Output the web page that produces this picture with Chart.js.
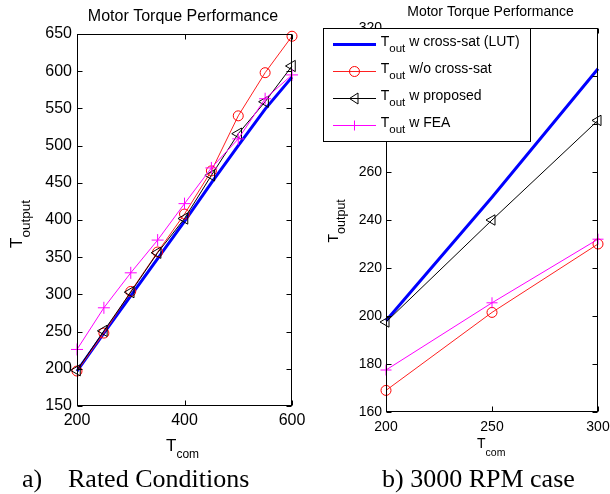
<!DOCTYPE html>
<html><head><meta charset="utf-8">
<script src="https://cdn.jsdelivr.net/npm/chart.js@4/dist/chart.umd.min.js"></script>
<style>
html,body{margin:0;padding:0;background:#fff;overflow:hidden;}
body{width:610px;height:494px;position:relative;overflow:hidden;}
canvas{position:absolute;top:0;}
#ca{left:0}
#cb{left:305px}
.cap{position:absolute;font-family:"Liberation Serif","Times New Roman",serif;font-size:26px;color:#000;white-space:pre;line-height:26px;top:466px;}
</style></head><body>
<canvas id="ca" width="330" height="494"></canvas>
<canvas id="cb" width="340" height="494"></canvas>
<div class="cap" style="left:22px">a)</div>
<div class="cap" style="left:68px">Rated Conditions</div>
<div class="cap" style="left:382px">b) 3000 RPM case</div>
<script>
// ---------- data ----------
const TITLE = 'Motor Torque Performance';
// a) Rated conditions
const TCOM_A = [200, 250, 300, 350, 400, 450, 500, 550, 600];
const LUT_A  = [197, 248, 298, 348, 398, 450, 500, 549, 592];
const WO_A   = [197, 248, 304, 357, 408, 466, 540, 598, 647];
const PROP_A = [198, 251, 303, 356, 402, 460, 516, 559, 607];
const FEA_A  = [226, 282, 329, 373, 422, 470, 509, 563, 595];
// b) 3000 RPM case
const TCOM_B = [200, 250, 300];
const LUT_B  = [198, 249.5, 303];
const WO_B   = [169, 201.5, 230];
const PROP_B = [197.5, 240, 281.5];
const FEA_B  = [177.5, 205.5, 232];
// legend texts
const LEG_MAIN = 'T';
const LEG_SUB = 'out';
const LEG_TEXT = [' w cross-sat (LUT)', ' w/o cross-sat', ' w proposed', ' w FEA'];

const SANS = '"Liberation Sans", Arial, Helvetica, sans-serif';
const F = sz => sz + 'px ' + SANS;

function drawSub(ctx, main, sub, x, y, mf, sf, drop) {
  ctx.textAlign = 'left'; ctx.textBaseline = 'alphabetic'; ctx.fillStyle = '#000';
  ctx.font = mf; const w1 = ctx.measureText(main).width; ctx.fillText(main, x, y);
  ctx.font = sf; const w2 = ctx.measureText(sub).width; ctx.fillText(sub, x + w1, y + drop);
  return x + w1 + w2;
}

function makeDatasets(xs, lut, wo, prop, fea, s) {
  const pts = ys => xs.map((x, i) => ({x: x, y: ys[i]}));
  const base = {tension: 0, clip: false, pointBackgroundColor: 'rgba(0,0,0,0)', pointBorderWidth: 1, borderWidth: 1};
  return [
    Object.assign({}, base, {label: 'LUT', data: pts(lut), borderColor: '#0000ff', borderWidth: s.lutW, pointRadius: 0, order: 4}),
    Object.assign({}, base, {label: 'wo', data: pts(wo), borderColor: '#ff2020', pointBorderColor: '#ff0000', pointStyle: 'circle', pointRadius: s.circ, order: 3}),
    Object.assign({}, base, {label: 'prop', data: pts(prop), borderColor: '#000000', pointBorderColor: '#000000', pointStyle: 'triangle', pointRotation: -90, pointRadius: s.tri, order: 2}),
    Object.assign({}, base, {label: 'fea', data: pts(fea), borderColor: '#ff00ff', pointBorderColor: '#ff00ff', pointStyle: 'cross', pointRadius: s.plus, order: 1})
  ];
}

const frame = {
  id: 'frame',
  afterDatasetsDraw(chart) {
    const {ctx, chartArea: a, scales: {x, y}} = chart;
    const L = Math.round(a.left) + 0.5, R = Math.round(a.right) - 0.5, T = Math.round(a.top) + 0.5, B = Math.round(a.bottom) - 0.5;
    const tl = 5;
    ctx.save();
    ctx.strokeStyle = '#000'; ctx.lineWidth = 1;
    ctx.strokeRect(L, T, R - L, B - T);
    ctx.beginPath();
    y.ticks.forEach(t => {
      const p = Math.round(y.getPixelForValue(t.value)) + 0.5;
      ctx.moveTo(L, p); ctx.lineTo(L + tl, p);
      ctx.moveTo(R, p); ctx.lineTo(R - tl, p);
    });
    x.ticks.forEach(t => {
      const p = Math.round(x.getPixelForValue(t.value)) + 0.5;
      ctx.moveTo(p, T); ctx.lineTo(p, T + tl);
      ctx.moveTo(p, B); ctx.lineTo(p, B - tl);
    });
    ctx.stroke();
    ctx.restore();
  }
};

function extras(opt) {
  return {
    id: 'extras',
    afterDraw(chart) {
      const ctx = chart.ctx;
      ctx.save();
      ctx.fillStyle = '#000'; ctx.font = F(opt.titleSize); ctx.textAlign = 'center'; ctx.textBaseline = 'alphabetic';
      ctx.fillText(TITLE, opt.titleX, opt.titleY);
      drawSub(ctx, 'T', 'com', opt.xtX, opt.xtY, F(opt.xtMain), F(opt.xtSub), opt.xtDrop);
      ctx.save();
      ctx.translate(opt.ytX, opt.ytY);
      ctx.rotate(-Math.PI / 2);
      drawSub(ctx, 'T', 'output', 0, 0, F(opt.ytMain), F(opt.ytSub), opt.ytDrop);
      ctx.restore();
      if (opt.legend) drawLegend(ctx, opt.legend);
      ctx.restore();
    }
  };
}

function drawLegend(ctx, g) {
  ctx.save();
  ctx.fillStyle = '#fff';
  ctx.fillRect(g.x0, g.y0, g.x1 - g.x0, g.y1 - g.y0);
  ctx.strokeStyle = '#000'; ctx.lineWidth = 1;
  ctx.strokeRect(g.x0 + 0.5, g.y0 + 0.5, g.x1 - g.x0 - 1, g.y1 - g.y0 - 1);
  const cols = ['#0000ff', '#ff2020', '#000000', '#ff00ff'];
  const mcol = ['#0000ff', '#ff0000', '#000000', '#ff00ff'];
  g.rows.forEach((ry, i) => {
    const yy = Math.round(ry) + 0.5;
    ctx.strokeStyle = cols[i];
    ctx.lineWidth = i === 0 ? 3 : 1;
    ctx.beginPath(); ctx.moveTo(g.lx0, yy); ctx.lineTo(g.lx1, yy); ctx.stroke();
    ctx.lineWidth = 1; ctx.strokeStyle = mcol[i];
    const mx = (g.lx0 + g.lx1) / 2;
    ctx.beginPath();
    if (i === 1) { ctx.arc(mx, yy, 5, 0, Math.PI * 2); }
    if (i === 2) { ctx.moveTo(mx - 5, yy); ctx.lineTo(mx + 3.5, yy - 5.5); ctx.lineTo(mx + 3.5, yy + 5.5); ctx.closePath(); }
    if (i === 3) { ctx.moveTo(mx - 5, yy); ctx.lineTo(mx + 5, yy); ctx.moveTo(mx, yy - 5); ctx.lineTo(mx, yy + 5); }
    ctx.stroke();
    const end = drawSub(ctx, LEG_MAIN, LEG_SUB, g.tx, ry + 2.5, F(14), F(11.5), 6);
    ctx.font = F(14); ctx.fillText(LEG_TEXT[i], end, ry + 2.5);
  });
  ctx.restore();
}

function makeChart(id, c) {
  return new Chart(document.getElementById(id), {
    type: 'line',
    data: {datasets: c.datasets},
    options: {
      responsive: false, animation: false, devicePixelRatio: 1, events: [],
      layout: {padding: {left: 0, top: c.top, right: c.right, bottom: 0}},
      plugins: {legend: {display: false}, title: {display: false}, tooltip: {enabled: false}},
      scales: {
        x: {type: 'linear', min: c.xmin, max: c.xmax,
            ticks: {stepSize: c.xstep, font: {family: SANS, size: c.tickSize}, color: '#000', padding: c.xpad, maxRotation: 0, autoSkip: false},
            grid: {display: false, drawTicks: false}, border: {display: false},
            afterFit(s) { s.height = c.xh; }},
        y: {type: 'linear', min: c.ymin, max: c.ymax,
            ticks: {stepSize: c.ystep, font: {family: SANS, size: c.tickSize}, color: '#000', padding: c.ypad, autoSkip: false},
            grid: {display: false, drawTicks: false}, border: {display: false},
            afterFit(s) { s.width = c.yw; }}
      }
    },
    plugins: [frame, extras(c.ex)]
  });
}

// left chart: canvas 330 wide, plot area 77..292
makeChart('ca', {
  datasets: makeDatasets(TCOM_A, LUT_A, WO_A, PROP_A, FEA_A, {lutW: 3, circ: 5, tri: 6.5, plus: 6}),
  top: 34, right: 38, xh: 88, yw: 77,
  xmin: 200, xmax: 600, xstep: 200, ymin: 150, ymax: 650, ystep: 50,
  tickSize: 16, xpad: 5, ypad: 5,
  ex: {titleSize: 16, titleX: 183, titleY: 21,
       xtX: 166, xtY: 451, xtMain: 17, xtSub: 12, xtDrop: 7,
       ytX: 21.5, ytY: 248, ytMain: 17, ytSub: 13.5, ytDrop: 8}
});

// right chart: canvas 340 wide starting at 305, plot area 386..598 (local 81..293)
makeChart('cb', {
  datasets: makeDatasets(TCOM_B, LUT_B, WO_B, PROP_B, FEA_B, {lutW: 3, circ: 5, tri: 6, plus: 5.5}),
  top: 28, right: 47, xh: 82, yw: 81,
  xmin: 200, xmax: 300, xstep: 50, ymin: 160, ymax: 320, ystep: 20,
  tickSize: 14, xpad: 7, ypad: 4,
  ex: {titleSize: 14, titleX: 185.5, titleY: 16,
       xtX: 172, xtY: 448, xtMain: 14, xtSub: 10.5, xtDrop: 8,
       ytX: 33, ytY: 242.5, ytMain: 14, ytSub: 12.5, ytDrop: 7,
       legend: {x0: 18, y0: 28, x1: 226, y1: 142, rows: [43.5, 70.5, 97.5, 124.5], lx0: 28, lx1: 71, tx: 75.7}}
});
</script>
</body></html>
